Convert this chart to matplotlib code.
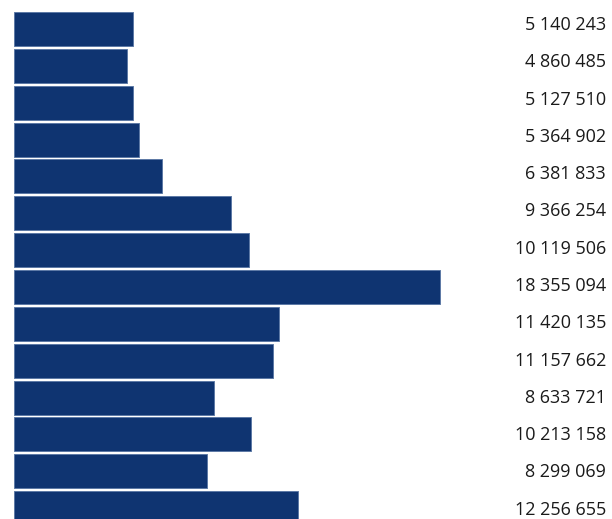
import numpy as np
import matplotlib.pyplot as plt

values = [5140243, 4860485, 5127510, 5364902, 6381833, 9366254, 10119506,
          18355094, 11420135, 11157662, 8633721, 10213158, 8299069, 12256655]
labels = ["5 140 243", "4 860 485", "5 127 510", "5 364 902", "6 381 833",
          "9 366 254", "10 119 506", "18 355 094", "11 420 135", "11 157 662",
          "8 633 721", "10 213 158", "8 299 069", "12 256 655"]

W, H = 612, 519
fig = plt.figure(figsize=(W / 100, H / 100), dpi=100)

# bars axes: spans x 14..440 px for 0..max, full height
x0, x1 = 14, 440
ax = fig.add_axes([x0 / W, 0, (W - x0) / W, 1])
vmax = max(values)
ax.set_xlim(0, vmax * (W - x0) / (x1 - x0))
pitch = 36.85
ax.set_ylim((H - 29) / pitch, -29 / pitch)
ypos = np.arange(len(values))
ax.barh(ypos, values, height=34 / pitch, color='#0f3471',
        edgecolor='#5d7aa6', linewidth=0.7)
ax.axis('off')

# labels sit on their own slightly wider pitch
lab = fig.add_axes([0, 0, 1, 1])
lp = 37.28
top = 25.0
lab.set_ylim((H - top) / lp, -top / lp)
lab.set_xlim(0, W)
for i, t in enumerate(labels):
    lab.text(606, i, t, ha='right', va='center', fontsize=13,
             family=['Open Sans', 'DejaVu Sans'], color='#1a1a1a')
lab.axis('off')

fig.savefig('out.png', dpi=100)
